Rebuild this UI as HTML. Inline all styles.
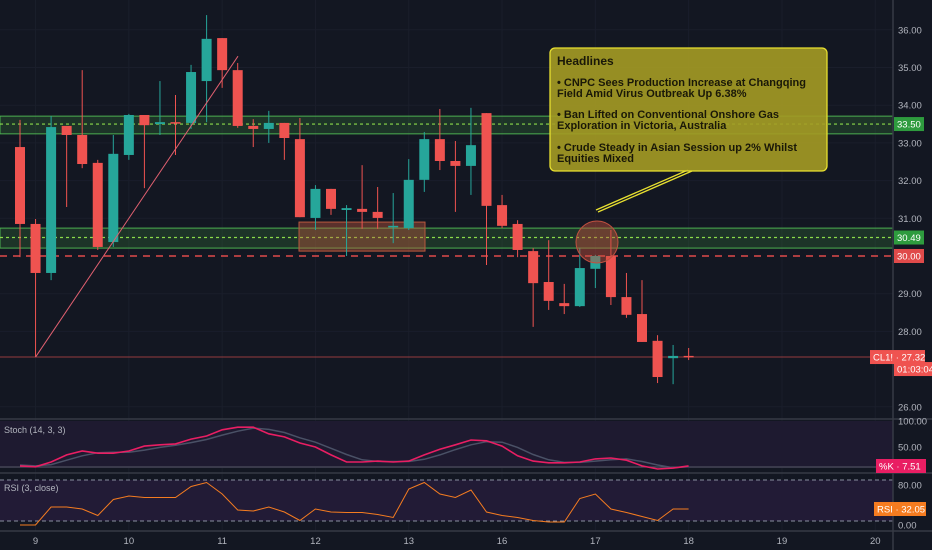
<!DOCTYPE html>
<html><head><meta charset="utf-8"><style>
html,body{margin:0;padding:0;background:#131722;width:932px;height:550px;overflow:hidden}
svg{display:block;font-family:"Liberation Sans",sans-serif}
</style></head><body>
<svg id="c" width="932" height="550" viewBox="0 0 932 550">
<rect width="932" height="550" fill="#131722"/>
<g id="grid"></g>
<rect x="0" y="421" width="893" height="47" fill="#1e1a30"/>
<rect x="0" y="480" width="893" height="41" fill="#221b36"/>
<g id="zones"></g>
<g id="candles"></g>
<g id="overlay"></g>
<g id="ind"></g>
<g id="axis"></g>
</svg>
<script>
const opens  =[32.89,30.85,29.55,33.45,33.21,32.47,30.37,32.68,33.74,33.50,33.55,33.53,34.64,35.78,34.93,33.45,33.37,33.53,33.10,31.01,31.78,31.22,31.25,31.17,30.77,30.74,32.02,33.10,32.52,32.39,33.79,31.35,30.85,30.13,29.31,28.75,28.67,29.66,30.00,28.91,28.46,27.75,27.29,27.35];
const highs  =[33.61,30.98,33.71,33.45,34.93,32.55,33.21,33.77,33.74,34.64,34.27,35.07,36.39,35.78,35.12,33.63,33.85,33.53,33.66,31.88,31.78,31.35,32.41,31.83,31.67,32.57,33.29,33.90,33.05,33.93,33.79,31.62,30.95,30.21,30.42,29.26,30.21,30.03,30.69,29.55,29.36,27.90,27.64,27.56];
const lows   =[29.97,27.32,29.36,31.30,32.33,30.16,30.24,32.55,31.80,33.21,32.68,33.37,33.55,34.46,33.40,32.89,33.00,32.55,31.03,30.69,31.09,30.00,30.72,30.72,30.34,30.69,31.70,32.28,31.17,31.62,29.76,30.74,29.97,28.12,28.57,28.46,28.65,29.15,28.70,28.36,27.72,26.63,26.60,27.24];
const closes =[30.85,29.55,33.42,33.21,32.44,30.24,32.71,33.74,33.47,33.55,33.53,34.88,35.76,34.93,33.45,33.37,33.53,33.13,31.03,31.78,31.25,31.27,31.17,31.01,30.80,32.02,33.10,32.52,32.39,32.94,31.33,30.80,30.16,29.28,28.81,28.67,29.68,30.00,28.91,28.44,27.72,26.79,27.35,27.32];
const stochK =[7,5,16,32,41,36,36,41,52,55,57,68,75,89,95,95,80,73,59,50,32,16,16,18,16,18,32,45,55,66,64,52,30,18,14,14,16,23,25,20,7,0,2,7];
const stochD =[9,7,10,20,30,37,38,38,43,49,54,60,67,77,86,93,90,83,71,61,47,33,21,17,17,17,22,32,44,55,62,61,49,33,21,15,15,18,21,23,17,9,3,5];
const rsi    =[0,0,36,36,32,19,51,58,55,55,55,77,85,62,30,28,36,26,9,32,26,25,25,21,15,72,85,62,55,70,26,19,15,9,6,6,53,62,32,25,17,9,32,32];
const priceTicks=[36,35,34,33,32,31,29,28,26];
const dayLabels=["9","10","11","12","13","16","17","18","19","20"];
const dayIdx=[1,7,13,19,25,31,37,43,49,55];

const NS="http://www.w3.org/2000/svg";
function mk(t,a,p,txt){const e=document.createElementNS(NS,t);for(const k in a)e.setAttribute(k,a[k]);if(txt!==undefined)e.textContent=txt;p.appendChild(e);return e;}
const xI=i=>20+i*15.55;
const yP=p=>256-(p-30)*37.7;
const yS=v=>469-v*0.44;
const yR=v=>525-v*0.5;
const G=id=>document.getElementById(id);
const grid=G('grid'),zones=G('zones'),cg=G('candles'),ov=G('overlay'),ind=G('ind'),ax=G('axis');

priceTicks.forEach(p=>{mk('line',{x1:0,x2:893,y1:yP(p),y2:yP(p),stroke:'#1a1e2b','stroke-width':1},grid);});
dayIdx.forEach(i=>{mk('line',{x1:xI(i),x2:xI(i),y1:0,y2:531,stroke:'#1a1e2b','stroke-width':1},grid);});

function zone(top,bot,mid,name){
  const g=mk('g',{},zones);
  
  
  mk('rect',{x:0,y:yP(top),width:893,height:yP(bot)-yP(top),fill:'rgba(60,140,60,0.25)',stroke:'#4caf50','stroke-width':1},g);
  mk('line',{x1:0,x2:893,y1:yP(mid),y2:yP(mid),stroke:'#8bdc4a','stroke-width':1.2,'stroke-dasharray':'3,3'},g);
}
zone(33.71,33.24,33.50,'resistance-zone-33-50');
zone(30.74,30.21,30.49,'support-zone-30-49');
const rd=mk('line',{x1:0,x2:893,y1:yP(30),y2:yP(30),stroke:'#e04a4a','stroke-width':1.5,'stroke-dasharray':'7,6'},zones);


const cl=mk('line',{x1:0,x2:893,y1:yP(27.32),y2:yP(27.32),stroke:'#c04848','stroke-width':0.8},zones);


const ob=mk('rect',{x:299,y:yP(30.9),width:126,height:yP(30.13)-yP(30.9),fill:'rgba(200,90,60,0.4)',stroke:'#b8583e','stroke-width':1},zones);



opens.forEach((o,i)=>{
  const c=closes[i],up=c>=o,col=up?'#26a69a':'#ef5350';
  const g=mk('g',{},cg);
  
  
  const x=xI(i);
  mk('line',{x1:x,x2:x,y1:yP(highs[i]),y2:yP(lows[i]),stroke:col,'stroke-width':1},g);
  const t=yP(Math.max(o,c)),b=yP(Math.min(o,c));
  mk('rect',{x:x-5,y:t,width:10,height:Math.max(1.5,b-t),fill:col},g);
});

const tl=mk('line',{x1:xI(1),y1:yP(27.32),x2:238,y2:yP(35.3),stroke:'#e06070','stroke-width':1},ov);


const ci=mk('circle',{cx:597,cy:242,r:21,fill:'rgba(200,80,60,0.45)',stroke:'#c05040','stroke-width':1},ov);


const ptr=mk('g',{},ov);


mk('line',{x1:596,y1:210,x2:688,y2:170,stroke:'#e8e030','stroke-width':1.3},ptr);
mk('line',{x1:598,y1:212,x2:692,y2:171,stroke:'#e8e030','stroke-width':1.3},ptr);
const box=mk('g',{},ov);


mk('rect',{x:550,y:48,width:277,height:123,rx:5,fill:'rgba(165,155,35,0.9)',stroke:'#e8e030','stroke-width':1.3},box);
const lines=[["Headlines",65,12],["• CNPC Sees Production Increase at Changqing",86,11],["Field Amid Virus Outbreak Up 6.38%",97,11],["• Ban Lifted on Conventional Onshore Gas",118,11],["Exploration in Victoria, Australia",129,11],["• Crude Steady in Asian Session up 2% Whilst",151,11],["Equities Mixed",162,11]];
lines.forEach(([t,y,s])=>{mk('text',{x:557,y:y,'font-size':s,'font-weight':'bold',fill:'#1a1808'},box,t);});

function path(arr,yf,col,w,name){
  let d='';arr.forEach((v,i)=>{d+=(i?'L':'M')+xI(i).toFixed(1)+','+yf(v).toFixed(1);});
  const p=mk('path',{d:d,fill:'none',stroke:col,'stroke-width':w},ind);
  
  
}
mk('line',{x1:0,x2:893,y1:467,y2:467,stroke:'#555a66','stroke-width':1},ind);
mk('line',{x1:0,x2:893,y1:480,y2:480,stroke:'#8a8fa0','stroke-width':1,'stroke-dasharray':'4,3'},ind);
mk('line',{x1:0,x2:893,y1:521,y2:521,stroke:'#8a8fa0','stroke-width':1,'stroke-dasharray':'4,3'},ind);
path(stochD,yS,'#4a5166',1.5,'stoch-d-line');
path(stochK,yS,'#e91e63',1.6,'stoch-k-line');
path(rsi,yR,'#f57c20',1,'rsi-line');
mk('text',{x:4,y:433,'font-size':9,fill:'#b2b5be'},ind,'Stoch (14, 3, 3)');
mk('text',{x:4,y:491,'font-size':9,fill:'#b2b5be'},ind,'RSI (3, close)');
[419,473,531].forEach(y=>mk('line',{x1:0,x2:932,y1:y,y2:y,stroke:'#363a45','stroke-width':1.5},ind));

mk('line',{x1:893,x2:893,y1:0,y2:550,stroke:'#363a45','stroke-width':1.5},ax);
priceTicks.forEach(p=>{mk('text',{x:898,y:yP(p)+3.5,'font-size':9.5,fill:'#b2b5be'},ax,p.toFixed(2));});
[[100,421],[50,447]].forEach(([v,y])=>mk('text',{x:898,y:y+3.5,'font-size':9.5,fill:'#b2b5be'},ax,v.toFixed(2)));
[[80,485],[0,525]].forEach(([v,y])=>mk('text',{x:898,y:y+3.5,'font-size':9.5,fill:'#b2b5be'},ax,v.toFixed(2)));
function tag(x,y,w,bg,t,name){const g=mk('g',{},ax);
  mk('rect',{x:x,y:y-7,width:w,height:14,fill:bg},g);mk('text',{x:x+3,y:y+3.5,'font-size':9.5,fill:'#fff'},g,t);}
tag(894,yP(33.5),30,'#2e9b3e','33.50','label-33-50');
tag(894,yP(30.49),30,'#2e9b3e','30.49','label-30-49');
tag(894,yP(30),30,'#e04a4a','30.00','label-30-00');
tag(870,yP(27.32),55,'#ef5350','CL1! · 27.32','label-last-price');
tag(894,yP(27.32)+12,38,'#ef5350','01:03:04','label-countdown');
tag(876,466,50,'#e91e63','%K · 7.51','label-stoch-k');
tag(874,509,52,'#f57c20','RSI · 32.05','label-rsi');
dayLabels.forEach((d,i)=>{mk('text',{x:xI(dayIdx[i]),y:544,'font-size':9.5,fill:'#b2b5be','text-anchor':'middle'},ax,d);});
</script>
</body></html>
